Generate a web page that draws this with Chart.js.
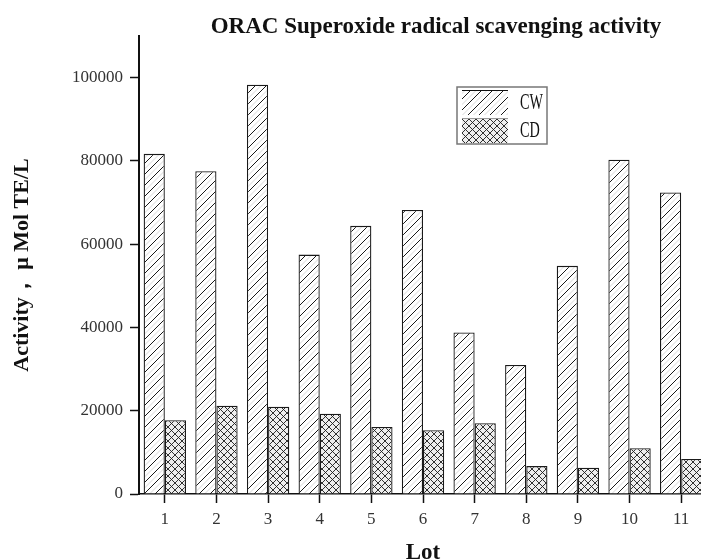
<!DOCTYPE html>
<html>
<head>
<meta charset="utf-8">
<script src="https://cdn.jsdelivr.net/npm/chart.js@4.4.1/dist/chart.umd.min.js"></script>
<style>
  html, body { margin: 0; padding: 0; overflow: hidden; background: #fff; }
  #wrap { width: 712px; height: 570px; }
</style>
</head>
<body>
<div id="wrap"><canvas id="oracChart" width="712" height="570"></canvas></div>
<script>
// ------------------------- DATA -------------------------
const lots = ['1', '2', '3', '4', '5', '6', '7', '8', '9', '10', '11'];
const cwValues = [81700, 77500, 98300, 57500, 64400, 68200, 38800, 31000, 54800, 80300, 72400];
const cdValues = [17700, 21200, 20950, 19300, 16100, 15300, 17000, 6700, 6300, 11000, 8400];
const seriesNames = ['CW', 'CD'];
const yTickValues = [0, 20000, 40000, 60000, 80000, 100000];
const yMax = 110000;
const chartTitle = 'ORAC Superoxide radical scavenging activity';
const yTitle = 'Activity， μ Mol TE/L';
const xTitle = 'Lot';

const SERIF = '"Liberation Serif", "Times New Roman", serif';

// ------------------------- PATTERNS -------------------------
// single diagonal hatch "/" for CW (black lines, faint grey in between)
function makeHatch() {
  const s = 11;
  const c = document.createElement('canvas');
  c.width = c.height = s;
  const g = c.getContext('2d');
  g.fillStyle = '#fff';
  g.fillRect(0, 0, s, s);
  g.strokeStyle = '#d8d8d8';
  g.lineWidth = 1;
  g.beginPath();
  g.moveTo(-1, s / 2 + 1); g.lineTo(s / 2 + 1, -1);
  g.moveTo(s / 2 - 1, s + 1); g.lineTo(s + 1, s / 2 - 1);
  g.stroke();
  g.strokeStyle = '#1a1a1a';
  g.beginPath();
  g.moveTo(-1, s + 1); g.lineTo(s + 1, -1);
  g.moveTo(-1, 1); g.lineTo(1, -1);
  g.moveTo(s - 1, s + 1); g.lineTo(s + 1, s - 1);
  g.stroke();
  return g.createPattern(c, 'repeat');
}

// cross hatch for CD
function makeCross() {
  const s = 7;
  const c = document.createElement('canvas');
  c.width = c.height = s;
  const g = c.getContext('2d');
  g.fillStyle = '#eeeeee';
  g.fillRect(0, 0, s, s);
  g.strokeStyle = '#1a1a1a';
  g.lineWidth = 0.9;
  g.beginPath();
  g.moveTo(-1, s + 1); g.lineTo(s + 1, -1);
  g.moveTo(-1, 1); g.lineTo(1, -1);
  g.moveTo(s - 1, s + 1); g.lineTo(s + 1, s - 1);
  g.moveTo(-1, -1); g.lineTo(s + 1, s + 1);
  g.moveTo(s - 1, -1); g.lineTo(s + 1, 1);
  g.moveTo(-1, s - 1); g.lineTo(1, s + 1);
  g.stroke();
  return g.createPattern(c, 'repeat');
}

const cwFill = makeHatch();
const cdFill = makeCross();

// ------------------------- TITLE + LEGEND -------------------------
const decorPlugin = {
  id: 'decor',
  afterDraw(chart) {
    const ctx = chart.ctx;
    ctx.save();

    // title
    ctx.font = 'bold 23px ' + SERIF;
    ctx.fillStyle = '#111';
    ctx.textAlign = 'center';
    ctx.textBaseline = 'middle';
    ctx.fillText(chartTitle, 436, 27);

    // legend box
    const bx = 457, by = 87, bw = 90, bh = 57;
    ctx.fillStyle = '#fff';
    ctx.fillRect(bx, by, bw, bh);
    ctx.strokeStyle = '#777';
    ctx.lineWidth = 1.5;
    ctx.strokeRect(bx, by, bw, bh);

    const rows = chart.data.datasets.map((ds, i) => ({
      label: ds.label, fill: ds.backgroundColor, y: by + 3 + i * 28
    }));
    rows.forEach((r, i) => {
      ctx.fillStyle = r.fill;
      ctx.fillRect(bx + 5, r.y, 46, 25);
      ctx.strokeStyle = i === 0 ? '#111' : '#999';
      ctx.lineWidth = 1.2;
      ctx.beginPath();
      ctx.moveTo(bx + 5, r.y + 0.5);
      ctx.lineTo(bx + 51, r.y + 0.5);
      ctx.stroke();

      ctx.save();
      ctx.translate(bx + 63, r.y + 13);
      ctx.scale(0.62, 1);
      ctx.font = '23px ' + SERIF;
      ctx.fillStyle = '#111';
      ctx.textAlign = 'left';
      ctx.textBaseline = 'middle';
      ctx.fillText(r.label, 0, 0);
      ctx.restore();
    });

    ctx.restore();
  }
};

// ------------------------- CHART -------------------------
new Chart(document.getElementById('oracChart').getContext('2d'), {
  type: 'bar',
  data: {
    labels: lots,
    datasets: [
      {
        label: seriesNames[0],
        data: cwValues,
        backgroundColor: cwFill,
        borderColor: '#1a1a1a',
        borderWidth: 1.3,
        categoryPercentage: 0.82,
        barPercentage: 1.0
      },
      {
        label: seriesNames[1],
        data: cdValues,
        backgroundColor: cdFill,
        borderColor: '#1a1a1a',
        borderWidth: 1.3,
        categoryPercentage: 0.82,
        barPercentage: 1.0
      }
    ]
  },
  options: {
    responsive: false,
    animation: false,
    devicePixelRatio: 1,
    layout: { padding: { top: 36, right: 5, left: 0, bottom: 0 } },
    plugins: {
      legend: { display: false },
      title: { display: false },
      tooltip: { enabled: false }
    },
    scales: {
      x: {
        offset: true,
        grid: {
          display: true,
          offset: false,
          drawOnChartArea: false,
          drawTicks: true,
          tickLength: 9,
          tickColor: '#111',
          tickWidth: 1.5
        },
        border: { display: true, color: '#111', width: 1.5 },
        ticks: {
          padding: 6,
          color: '#333',
          font: { family: SERIF, size: 17 }
        },
        title: {
          display: true,
          text: xTitle,
          color: '#111',
          padding: { top: 0, bottom: 3 },
          font: { family: SERIF, size: 23, weight: 'bold' }
        },
        afterFit: (scale) => { scale.height = 76; }
      },
      y: {
        min: 0,
        max: yMax,
        grid: {
          display: true,
          drawOnChartArea: false,
          drawTicks: true,
          tickLength: 9,
          tickColor: '#111',
          tickWidth: 1.5
        },
        border: { display: true, color: '#111', width: 2 },
        // stepSize with a non-multiple max confuses Chart.js, so set ticks directly
        afterBuildTicks: (scale) => {
          scale.ticks = yTickValues.map(v => ({ value: v }));
        },
        ticks: {
          padding: 7,
          color: '#333',
          font: { family: SERIF, size: 17 },
          callback: (v) => String(v)
        },
        title: {
          display: true,
          text: yTitle,
          color: '#111',
          padding: { top: 9, bottom: 0 },
          font: { family: SERIF, size: 22, weight: 'bold' }
        },
        afterFit: (scale) => { scale.width = 139; }
      }
    }
  },
  plugins: [decorPlugin]
});
</script>
</body>
</html>
